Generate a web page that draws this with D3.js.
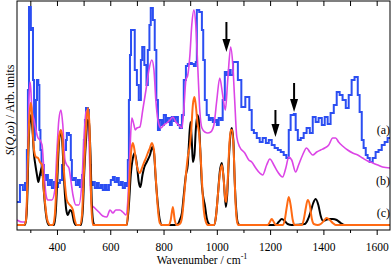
<!DOCTYPE html>
<html><head><meta charset="utf-8">
<script src="https://cdn.jsdelivr.net/npm/d3@7"></script>
<style>html,body{margin:0;padding:0;background:#fff;}svg{display:block;}</style>
</head><body>
<svg id="c" width="391" height="267"></svg>
<script>
// ---- data (wavenumber / cm-1, intensity in arbitrary units) ----
const xTicksMajor = [400, 600, 800, 1000, 1200, 1400, 1600];
const xTicksMinor = [300, 500, 700, 900, 1100, 1300, 1500];
const curveLabels = ["(a)", "(b)", "(c)"];
const curveLabelY = [96, 45, 13];
const arrowWn = [1036, 1220, 1290];
const arrowTop = [208, 120, 147];
const arrowTip = [178, 93, 118];

const seriesA = [[250,28],[261,45],[272,40],[280,47],[287,80],[291,140],[295,223],[302,200],[306,202],[310,150],[314,90],[317,100],[321,130],[325,150],[330,145],[334,100],[338,80],[342,55],[347,65],[351,50],[359,55],[366,45],[374,50],[381,42],[389,48],[396,43],[404,47],[411,50],[419,65],[426,80],[434,90],[437,97],[445,95],[452,70],[456,50],[464,52],[471,45],[479,50],[486,43],[494,55],[501,90],[505,110],[509,122],[516,120],[520,90],[524,65],[527,45],[535,48],[542,42],[550,47],[557,42],[565,45],[572,40],[580,45],[587,40],[595,45],[602,50],[610,53],[617,48],[625,52],[632,45],[640,48],[647,42],[655,47],[662,44],[666,70],[670,130],[674,175],[678,200],[692,160],[700,145],[707,130],[715,170],[720,183],[728,165],[736,145],[741,180],[747,205],[752,222],[760,210],[767,180],[773,130],[779,100],[786,110],[794,105],[801,115],[809,108],[816,112],[824,105],[831,113],[839,109],[846,113],[854,105],[861,102],[869,115],[876,150],[884,164],[891,166],[899,167],[906,166],[914,164],[921,168],[925,220],[934,218],[944,200],[949,170],[955,130],[962,115],[970,110],[977,112],[985,108],[992,110],[1000,105],[1007,112],[1015,110],[1022,130],[1030,158],[1037,155],[1045,160],[1052,155],[1061,168],[1079,150],[1092,123],[1107,133],[1122,120],[1131,100],[1139,97],[1150,92],[1161,88],[1172,92],[1184,87],[1195,90],[1206,85],[1217,82],[1229,80],[1240,78],[1251,75],[1261,72],[1270,100],[1277,115],[1289,116],[1296,100],[1304,90],[1315,92],[1326,97],[1337,102],[1349,97],[1360,113],[1371,108],[1382,112],[1394,105],[1405,113],[1416,106],[1427,117],[1439,125],[1450,138],[1461,135],[1472,130],[1484,122],[1495,135],[1506,150],[1517,153],[1529,135],[1536,118],[1544,90],[1551,82],[1559,75],[1566,72],[1574,68],[1585,72],[1596,78],[1607,80],[1619,85],[1630,88],[1641,92],[1650,92]];

const seriesB = [[250,10],[269,8],[280,8],[287,30],[291,80],[295,130],[299,148],[302,140],[306,120],[314,110],[321,100],[329,92],[336,90],[344,85],[351,60],[359,35],[366,30],[381,30],[392,40],[400,80],[407,110],[415,120],[422,105],[430,70],[437,65],[445,62],[452,50],[460,35],[471,25],[482,25],[494,50],[501,90],[509,118],[514,120],[520,90],[526,40],[531,25],[542,22],[557,18],[572,14],[587,13],[599,20],[610,17],[621,20],[636,20],[647,18],[659,15],[666,30],[674,80],[681,112],[689,105],[694,100],[700,102],[711,103],[722,120],[734,140],[745,160],[756,170],[764,160],[771,130],[779,110],[790,102],[801,105],[812,107],[824,110],[835,113],[846,108],[857,105],[869,102],[876,120],[884,150],[891,155],[899,175],[906,205],[914,220],[921,205],[929,160],[936,120],[944,102],[955,98],[966,97],[977,98],[989,105],[1000,130],[1011,152],[1022,135],[1032,120],[1041,150],[1052,183],[1060,165],[1067,130],[1075,93],[1086,83],[1105,77],[1120,70],[1131,68],[1146,62],[1161,57],[1172,55],[1187,65],[1199,71],[1214,65],[1229,58],[1247,53],[1259,62],[1270,73],[1281,70],[1296,58],[1307,65],[1322,75],[1337,82],[1349,78],[1360,75],[1375,78],[1390,80],[1405,82],[1420,85],[1435,92],[1446,92],[1457,88],[1472,84],[1491,80],[1510,77],[1529,75],[1547,72],[1566,69],[1585,67],[1604,65],[1622,63],[1650,62]];

const seriesCcalc1 = [[250,5],[280,5],[286,15],[290,45],[293,80],[297,105],[302,115],[308,100],[314,75],[319,65],[325,55],[330,48],[336,55],[344,63],[349,45],[355,25],[362,10],[370,5],[389,5],[396,20],[402,55],[407,85],[413,98],[419,92],[424,65],[430,35],[435,20],[441,15],[449,20],[456,18],[464,8],[471,5],[490,5],[497,20],[502,55],[509,90],[514,110],[520,108],[526,75],[531,25],[537,7],[542,5],[662,5],[670,25],[677,55],[685,72],[692,77],[700,65],[707,48],[713,43],[721,55],[728,63],[737,68],[749,75],[758,83],[764,78],[771,50],[779,25],[786,10],[794,5],[842,5],[854,6],[861,10],[869,17],[876,35],[884,55],[891,65],[895,85],[901,108],[906,90],[910,68],[916,75],[921,100],[927,115],[932,110],[938,80],[944,45],[949,33],[955,25],[962,12],[970,6],[977,5],[989,5],[996,12],[1004,35],[1011,58],[1019,67],[1026,50],[1034,23],[1039,35],[1045,70],[1051,95],[1056,102],[1062,90],[1067,50],[1073,20],[1079,7],[1086,5],[1221,5],[1232,8],[1244,11],[1255,9],[1266,6],[1281,5],[1330,6],[1341,10],[1352,18],[1362,27],[1371,31],[1381,25],[1390,14],[1399,9],[1409,10],[1422,11],[1435,11],[1450,10],[1465,7],[1480,5],[1500,5]];

const seriesCcalc2 = [[250,5],[276,5],[284,10],[287,30],[291,70],[295,105],[299,122],[302,127],[306,118],[310,95],[314,80],[321,73],[329,72],[336,68],[344,65],[349,45],[355,28],[362,12],[370,6],[374,5],[385,5],[392,15],[398,45],[404,80],[409,95],[415,100],[421,90],[426,60],[432,40],[437,30],[445,26],[452,24],[460,20],[467,10],[475,5],[486,5],[494,15],[499,45],[505,80],[511,110],[516,122],[522,105],[526,60],[529,25],[535,5],[662,5],[668,25],[674,60],[679,80],[685,87],[691,80],[696,70],[704,60],[711,57],[719,62],[726,67],[734,72],[741,77],[749,82],[756,87],[764,80],[769,60],[775,35],[781,15],[786,7],[794,5],[820,5],[827,10],[835,23],[842,10],[850,5],[861,6],[869,12],[876,30],[884,55],[891,73],[899,85],[904,100],[910,125],[916,133],[921,125],[927,108],[934,95],[940,70],[946,40],[951,20],[959,8],[966,5],[989,5],[996,12],[1004,35],[1011,55],[1019,65],[1026,50],[1032,30],[1035,28],[1041,50],[1046,80],[1052,100],[1058,100],[1064,75],[1069,35],[1075,10],[1081,5],[1191,5],[1199,8],[1206,11],[1214,8],[1221,5],[1247,5],[1255,10],[1262,22],[1270,33],[1277,25],[1285,10],[1292,5],[1319,5],[1326,10],[1334,22],[1341,30],[1349,25],[1356,12],[1364,6],[1379,5],[1390,6],[1401,9],[1412,12],[1424,10],[1435,7],[1446,5],[1650,5]];

// ---- layout ----
const W = 391, H = 267;
const L = 17, R = 390, T = 1, B = 230;
const svg = d3.select("#c");
const x = d3.scaleLinear().domain([250, 1650]).range([L, R]);
const y = d3.scaleLinear().domain([0, 229]).range([B, T]);
const serif = "'Liberation Serif', 'Times New Roman', serif";

svg.append("defs").append("clipPath").attr("id", "clip")
  .append("rect").attr("x", L).attr("y", T).attr("width", R - L).attr("height", B - T);

const plot = svg.append("g").attr("clip-path", "url(#clip)");

const smooth = d3.line().x(d => x(d[0])).y(d => y(d[1])).curve(d3.curveMonotoneX);
const steps = d3.line().x(d => x(d[0])).y(d => y(d[1])).curve(d3.curveStepAfter);

plot.append("path").datum(seriesA).attr("d", steps)
  .attr("fill", "none").attr("stroke", "#2b4ef2").attr("stroke-width", 2).attr("stroke-linejoin", "miter");
plot.append("path").datum(seriesB).attr("d", smooth)
  .attr("fill", "none").attr("stroke", "#dc45e6").attr("stroke-width", 1.6);
plot.append("path").datum(seriesCcalc1).attr("d", smooth)
  .attr("fill", "none").attr("stroke", "#000").attr("stroke-width", 2);
plot.append("path").datum(seriesCcalc2).attr("d", smooth)
  .attr("fill", "none").attr("stroke", "#ff6a13").attr("stroke-width", 2);

// arrows
arrowWn.forEach((w, i) => {
  const ax = x(w), yt = y(arrowTop[i]), yp = y(arrowTip[i]);
  const headLen = 13, headW = 4;
  svg.append("line").attr("x1", ax).attr("x2", ax).attr("y1", yt).attr("y2", yp - headLen + 1)
    .attr("stroke", "#000").attr("stroke-width", 2);
  svg.append("path")
    .attr("d", `M${ax - headW},${yp - headLen} L${ax + headW},${yp - headLen} L${ax},${yp} Z`)
    .attr("fill", "#000");
});

// axes
const axB = d3.axisBottom(x).tickValues(xTicksMajor).tickSize(5).tickSizeOuter(0).tickFormat(d3.format("d"));
const gB = svg.append("g").attr("transform", `translate(0,${B})`).call(axB);
gB.select(".domain").remove();
gB.selectAll("text").attr("y", 20.5).attr("dy", null).attr("font-family", serif).attr("font-size", 11.5).attr("fill", "#000");
gB.selectAll("line").attr("stroke", "#000");
const axBm = d3.axisBottom(x).tickValues(xTicksMinor).tickSize(3).tickFormat("");
const gBm = svg.append("g").attr("transform", `translate(0,${B})`).call(axBm);
gBm.select(".domain").remove();

const axT = d3.axisBottom(x).tickValues(xTicksMajor.concat(xTicksMinor)).tickSize(5).tickFormat("");
const gT = svg.append("g").attr("transform", `translate(0,${T})`).call(axT);
gT.select(".domain").remove();

svg.append("rect").attr("x", L).attr("y", T).attr("width", R - L).attr("height", B - T)
  .attr("fill", "none").attr("stroke", "#000").attr("stroke-width", 1);

// axis titles
const xt = svg.append("text").attr("x", 202).attr("y", 264).attr("text-anchor", "middle")
  .attr("font-family", serif).attr("font-size", 11.5).attr("fill", "#000");
xt.append("tspan").text("Wavenumber / cm");
xt.append("tspan").attr("dy", -5).attr("font-size", 8).text("-1");

const yt = svg.append("text").attr("transform", "translate(14,110) rotate(-90)").attr("text-anchor", "middle")
  .attr("font-family", serif).attr("font-size", 12).attr("fill", "#000");
yt.append("tspan").attr("font-style", "italic").text("S");
yt.append("tspan").text("(");
yt.append("tspan").attr("font-style", "italic").text("Q");
yt.append("tspan").text(",");
yt.append("tspan").attr("font-style", "italic").text("ω");
yt.append("tspan").text(") / Arb. units");

// curve labels
curveLabels.forEach((t, i) => {
  svg.append("text").attr("x", 390).attr("y", y(curveLabelY[i])).attr("text-anchor", "end")
    .attr("font-family", serif).attr("font-size", 12).attr("fill", "#000").text(t);
});
</script>
</body></html>
